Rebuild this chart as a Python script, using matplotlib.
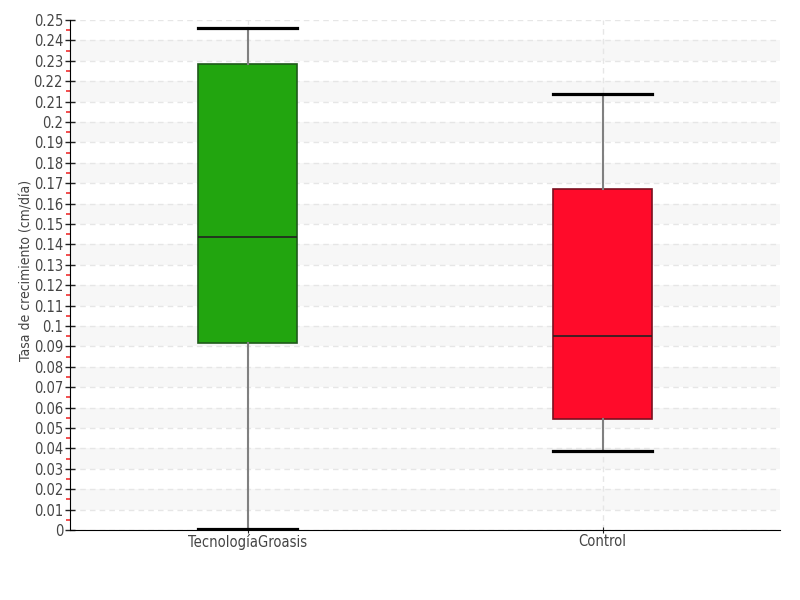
import matplotlib
matplotlib.use("Agg")
import matplotlib.pyplot as plt
import numpy as np

# data
categories = ["TecnologíaGroasis", "Control"]
whisker_low = [0.0005, 0.0387]
q1 = [0.0917, 0.0544]
median = [0.1436, 0.0951]
q3 = [0.2284, 0.1672]
whisker_high = [0.246, 0.2137]
box_colors = ["#22a50f", "#ff0b2a"]
edge_colors = ["#1f5a1a", "#7a1020"]
y_ticks = np.round(np.arange(0, 0.2501, 0.01), 2)
y_minor = np.round(np.arange(0.005, 0.25, 0.01), 3)

plt.rcParams["font.family"] = ["DejaVu Sans"]
plt.rcParams["font.stretch"] = "condensed"

fig = plt.figure(figsize=(8, 6), dpi=100)
ax = fig.add_axes([0.0875, 0.1167, 0.8875, 0.85])

stats = []
for i, name in enumerate(categories):
    stats.append({"label": name, "whislo": whisker_low[i], "q1": q1[i], "med": median[i],
                  "q3": q3[i], "whishi": whisker_high[i], "fliers": []})

positions = np.arange(len(categories))
bp = ax.bxp(stats, positions=positions, widths=0.28, patch_artist=True, showfliers=False,
            whiskerprops=dict(color="#808080", linewidth=1.5),
            capprops=dict(color="black", linewidth=2.3),
            medianprops=dict(color="#222222", linewidth=1.2),
            capwidths=0.28, zorder=3)
for patch, fc, ec in zip(bp["boxes"], box_colors, edge_colors):
    patch.set_facecolor(fc)
    patch.set_edgecolor(ec)
    patch.set_linewidth(1.2)

ax.set_xlim(-0.5, 1.5)
ax.set_ylim(0, 0.25)

# alternating bands
for lo in np.arange(0.01, 0.25, 0.02):
    ax.axhspan(lo, lo + 0.01, color="#f7f7f7", zorder=0, lw=0)

ax.set_yticks(y_ticks)
ax.set_yticklabels([f"{v:g}" for v in y_ticks])
ax.set_yticks(y_minor, minor=True)
ax.grid(axis="y", which="major", color="#e6e6e6", linestyle=(0, (4, 3)), linewidth=1, zorder=1)
ax.grid(axis="x", which="major", color="#e6e6e6", linestyle=(0, (4, 3)), linewidth=1, zorder=1)
ax.set_axisbelow(True)

ax.set_xticks(positions)
ax.set_xticklabels(categories)

ax.tick_params(axis="y", which="major", direction="inout", length=7, width=1, colors="#222222",
               labelcolor="#444444", labelsize=10.5, pad=1.5)
ax.tick_params(axis="y", which="minor", direction="out", length=3, width=1.2, colors="#f03030")
ax.tick_params(axis="x", which="major", direction="inout", length=4, colors="#222222",
               labelcolor="#444444", labelsize=10.5, pad=1)

for s in ["top", "right"]:
    ax.spines[s].set_visible(False)
ax.spines["left"].set_color("black")
ax.spines["bottom"].set_color("black")

ax.set_ylabel("Tasa de crecimiento (cm/día)", fontsize=10, color="#444444")
ax.yaxis.set_label_coords(-0.051, 0.508)

fig.savefig("out.png", dpi=100, facecolor="white")
